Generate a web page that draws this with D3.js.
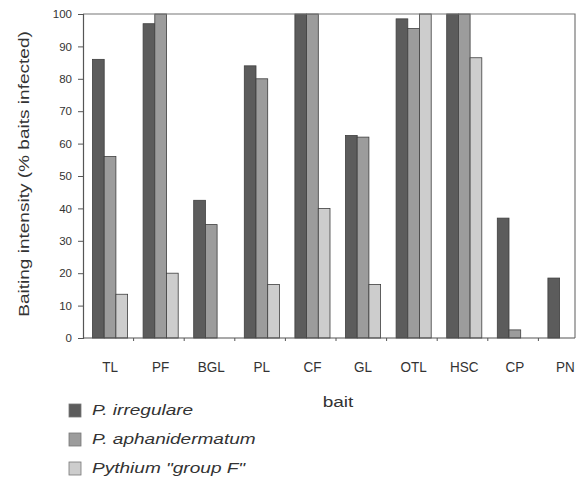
<!DOCTYPE html>
<html>
<head>
<meta charset="utf-8">
<script src="https://cdn.jsdelivr.net/npm/d3@7"></script>
<style>
  body { margin: 0; background: #fff; }
  svg { display: block; font-family: 'Liberation Sans', Arial, sans-serif; }
</style>
</head>
<body>
<div id="chart"></div>
<script>
const baits = ['TL', 'PF', 'BGL', 'PL', 'CF', 'GL', 'OTL', 'HSC', 'CP', 'PN']
const seriesNames = ['P. irregulare', 'P. aphanidermatum', 'Pythium "group F"']
const irregulare = [86, 97, 42.5, 84, 100, 62.5, 98.5, 100, 37, 18.5]
const aphanidermatum = [56, 100, 35, 80, 100, 62, 95.5, 100, 2.5, 0]
const groupF = [13.5, 20, 0, 16.5, 40, 16.5, 100, 86.5, 0, 0]
const yTicks = [0, 10, 20, 30, 40, 50, 60, 70, 80, 90, 100]

const W = 578
const H = 477
const LEFT = 83
const TOP = 14
const BOTTOM = 338
const FRAME_RIGHT = 575
const BAND = 50.6
const BAR_W = 11.7
const GROUP_PAD = 9.5
const COLORS = ['#5c5c5c', '#9c9c9c', '#cdcdcd']
const STROKE = '#3e3e3e'
const STRETCH = 1.36 // text in the source is set wide

const svg = d3.select('#chart')
  .append('svg')
  .attr('width', W)
  .attr('height', H)

const x = d3.scaleBand()
  .domain(baits)
  .range([LEFT, LEFT + BAND * baits.length])

const xs = d3.scaleLinear()
  .domain([0, seriesNames.length])
  .range([GROUP_PAD, GROUP_PAD + BAR_W * seriesNames.length])

const y = d3.scaleLinear()
  .domain([0, 100])
  .range([BOTTOM, TOP])

const series = [irregulare, aphanidermatum, groupF]

// bars
const groups = svg.append('g')
  .selectAll('g')
  .data(baits)
  .join('g')
  .attr('transform', d => `translate(${x(d)},0)`)

groups.selectAll('rect')
  .data((d, i) => series.map((s, k) => ({ k, v: s[i] })).filter(o => o.v > 0))
  .join('rect')
  .attr('x', d => xs(d.k))
  .attr('y', d => y(d.v))
  .attr('width', BAR_W)
  .attr('height', d => BOTTOM - y(d.v))
  .attr('fill', d => COLORS[d.k])
  .attr('stroke', STROKE)
  .attr('stroke-width', 0.8)

// frame
svg.append('path')
  .attr('d', `M${LEFT},${TOP}H${FRAME_RIGHT}V${BOTTOM}`)
  .attr('fill', 'none')
  .attr('stroke', '#777')
  .attr('stroke-width', 1.2)

// y axis
const yAxis = svg.append('g')
  .attr('transform', `translate(${LEFT},0)`)
  .call(d3.axisLeft(y).tickValues(yTicks).tickSize(5).tickPadding(6))
yAxis.select('.domain').attr('stroke', '#555').attr('stroke-width', 1.2)
yAxis.selectAll('.tick line').attr('stroke', '#555')
yAxis.selectAll('.tick text')
  .attr('font-size', 11.5)
  .attr('fill', '#333')

// x axis (ticks at band boundaries)
const xAxis = svg.append('g')
  .attr('transform', `translate(0,${BOTTOM})`)
xAxis.append('line')
  .attr('x1', LEFT)
  .attr('x2', FRAME_RIGHT)
  .attr('stroke', '#555')
  .attr('stroke-width', 1.2)
xAxis.selectAll('.btick')
  .data(baits.slice(1))
  .join('line')
  .attr('class', 'btick')
  .attr('x1', d => x(d))
  .attr('x2', d => x(d))
  .attr('y1', 0)
  .attr('y2', 3)
  .attr('stroke', '#555')
xAxis.selectAll('.xlab')
  .data(baits)
  .join('text')
  .attr('class', 'xlab')
  .attr('transform', d => `translate(${x(d) + GROUP_PAD + BAR_W * 1.5},34) scale(1,1.15)`)
  .attr('text-anchor', 'middle')
  .attr('font-size', 13.5)
  .attr('fill', '#333')
  .text(d => d)

svg.append('text')
  .attr('transform', `translate(338,407) scale(${STRETCH},1)`)
  .attr('text-anchor', 'middle')
  .attr('font-size', 14)
  .attr('fill', '#333')
  .text('bait')

svg.append('text')
  .attr('transform', `translate(29,174) rotate(-90) scale(${STRETCH},1)`)
  .attr('text-anchor', 'middle')
  .attr('font-size', 14)
  .attr('fill', '#333')
  .text('Baiting intensity (% baits infected)')

// legend
const legend = svg.append('g')
  .selectAll('g')
  .data(seriesNames)
  .join('g')
  .attr('transform', (d, i) => `translate(69,${404 + i * 29})`)
legend.append('rect')
  .attr('width', 12)
  .attr('height', 13)
  .attr('fill', (d, i) => COLORS[i])
  .attr('stroke', '#777')
  .attr('stroke-width', 0.8)
legend.append('text')
  .attr('transform', `translate(23,11) scale(${STRETCH},1)`)
  .attr('font-size', 14)
  .attr('font-style', 'italic')
  .attr('fill', '#333')
  .text(d => d)
</script>
</body>
</html>
